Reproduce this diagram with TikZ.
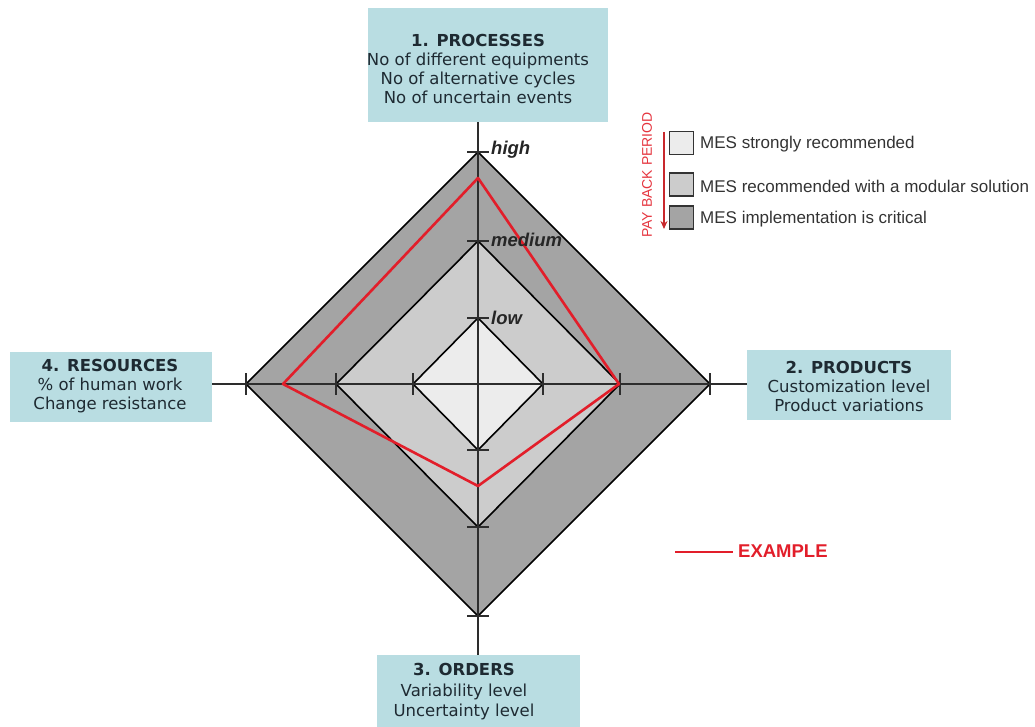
\documentclass[tikz,border=0pt]{standalone}
\usepackage{fontspec}
\setmainfont{DejaVu Sans}
\newfontfamily\legendfont{Liberation Sans}
\usetikzlibrary{arrows.meta}

\definecolor{boxblue}{RGB}{185,221,226}
\definecolor{boxtext}{RGB}{30,42,50}
\definecolor{outerg}{RGB}{164,164,164}
\definecolor{midg}{RGB}{204,204,204}
\definecolor{innerg}{RGB}{236,236,236}
\definecolor{axisgray}{RGB}{45,45,45}
\definecolor{exred}{RGB}{226,30,42}
\definecolor{pbred}{RGB}{200,40,45}

\tikzset{
  catbox/.style={fill=boxblue, draw=none, inner sep=0pt},
  cattext/.style={align=center, inner sep=0pt, text=boxtext,
    font=\fontsize{16.5}{19}\selectfont},
  ring/.style={draw=black, line width=1.6pt, line join=miter},
  axisline/.style={draw=axisgray, line width=2pt},
  tickmark/.style={draw=axisgray, line width=2pt},
  exampleline/.style={draw=exred, line width=2.6pt, line join=round},
  level/.style={anchor=west, inner sep=0pt, text=black!85,
    font=\legendfont\bfseries\itshape\fontsize{18.5}{18.5}\selectfont},
  legbox/.style={draw=black!80, line width=1.4pt, minimum width=24pt,
    minimum height=23pt, inner sep=0pt},
  legtext/.style={anchor=west, inner sep=0pt, text=black!80,
    font=\legendfont\fontsize{17}{17}\selectfont},
}

\begin{document}
\begin{tikzpicture}[x=1pt,y=-1pt]
\useasboundingbox (0,0) rectangle (1035,727);

% centre of the radar chart
\coordinate (c) at (478,384);

% category boxes
\node[catbox, minimum width=240pt, minimum height=114pt] (proc) at (488,65) {};
\node[cattext] (proct) at (478,68.5)
  {\textbf{1. PROCESSES}\\No of different equipments\\No of alternative cycles\\No of uncertain events};

\node[catbox, minimum width=204pt, minimum height=70pt] (prod) at (849,385) {};
\node[cattext] (prodt) at (849,386)
  {\textbf{2. PRODUCTS}\\Customization level\\Product variations};

\node[catbox, minimum width=203pt, minimum height=90pt] (ord) at (478.5,700) {};
\node[cattext, font=\fontsize{16.5}{20.5}\selectfont] (ordt) at (464,692)
  {\textbf{3. ORDERS}\\Variability level\\Uncertainty level};

\node[catbox, minimum width=202pt, minimum height=70pt] (res) at (111,387) {};
\node[cattext] (rest) at (110,386)
  {\textbf{4. RESOURCES}\\\% of human work\\Change resistance};

% nested level rings
\begin{scope}[shift={(c)}]
  \draw[ring, fill=outerg] (0,-232) -- (232,0) -- (0,232) -- (-232,0) -- cycle;
  \draw[ring, fill=midg]   (0,-143) -- (142,0) -- (0,143) -- (-142,0) -- cycle;
  \draw[ring, fill=innerg] (0,-66) -- (65,0) -- (0,66) -- (-65,0) -- cycle;
\end{scope}

% axes between the category boxes
\draw[axisline] (proc.south -| c) -- (ord.north -| c);
\draw[axisline] (res.east |- c) -- (prod.west |- c);

% tick marks on the axes
\begin{scope}[shift={(c)}]
  \foreach \r/\s in {66/65,143/142,232/232}{
    \draw[tickmark] (-11,-\r) -- (11,-\r);
    \draw[tickmark] (-11,\r) -- (11,\r);
    \draw[tickmark] (-\s,-11) -- (-\s,11);
    \draw[tickmark] (\s,-11) -- (\s,11);
  }
  % example profile
  \draw[exampleline] (0,-206) -- (141,0) -- (0,102) -- (-195,0) -- cycle;
\end{scope}

% level labels
\node[level] (lhigh) at (491,150) {high};
\node[level] (lmed)  at (491,240) {medium};
\node[level] (llow)  at (491,318) {low};

% legend
\node[legbox, fill=innerg] (k1) at (681.5,143) {};
\node[legbox, fill=midg]   (k2) at (681.5,184.5) {};
\node[legbox, fill=outerg] (k3) at (681.5,217.5) {};
\node[legtext] (t1) at (700,144) {MES strongly recommended};
\node[legtext] (t2) at (700,186) {MES recommended with a modular solution};
\node[legtext] (t3) at (700,219) {MES implementation is critical};

\node[rotate=90, inner sep=0pt, text=exred!90,
  font=\legendfont\fontsize{14}{14}\selectfont] (pbp) at (647,175) {PAY BACK PERIOD};
\coordinate (pbtop) at (664,132);
\coordinate (pbbot) at (664,229);
\draw[pbred, line width=1.6pt, -{Stealth[length=8pt,width=7pt]}] (pbtop) -- (pbbot);

% example key
\node[anchor=west, inner sep=0pt, text=exred,
  font=\legendfont\bfseries\fontsize{18.5}{18.5}\selectfont] (ex) at (738,551) {EXAMPLE};
\coordinate (exa) at (675,552);
\draw[exampleline] (exa) -- ([xshift=-5pt]ex.west |- exa);
\end{tikzpicture}
\end{document}
